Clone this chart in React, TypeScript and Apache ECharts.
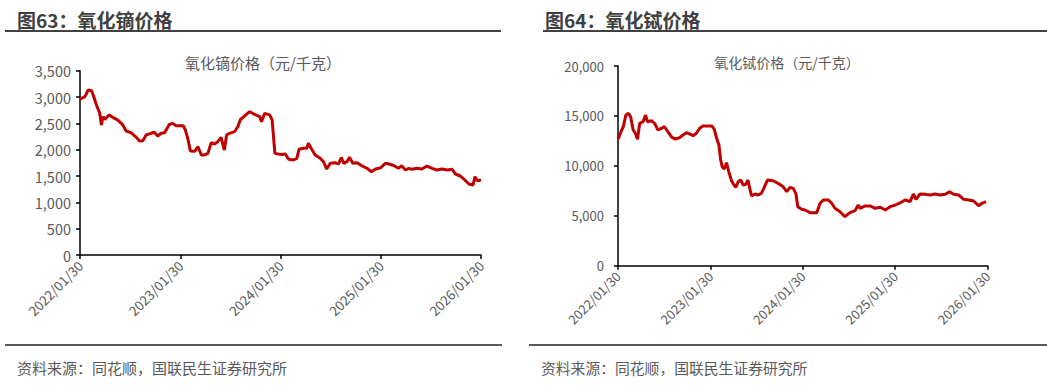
import React, { useEffect, useRef } from "react";
import * as echarts from "echarts";

// 氧化镝价格（元/千克）
const dyDates = [
  "2022-01-30", "2022-02-17", "2022-03-01", "2022-03-13", "2022-03-19", "2022-03-31", "2022-04-12", "2022-04-18",
  "2022-04-24", "2022-04-30", "2022-05-17", "2022-05-29", "2022-06-16", "2022-07-05", "2022-07-17", "2022-08-04",
  "2022-08-23", "2022-09-04", "2022-09-16", "2022-09-28", "2022-10-16", "2022-10-28", "2022-11-09", "2022-11-22",
  "2022-12-04", "2022-12-22", "2023-01-03", "2023-01-15", "2023-02-10", "2023-02-18", "2023-02-28", "2023-03-08",
  "2023-03-24", "2023-04-05", "2023-04-17", "2023-04-29", "2023-05-11", "2023-05-23", "2023-06-04", "2023-06-16",
  "2023-06-28", "2023-07-10", "2023-07-18", "2023-07-29", "2023-08-16", "2023-08-28", "2023-09-07", "2023-09-22",
  "2023-10-10", "2023-10-28", "2023-11-16", "2023-11-22", "2023-12-04", "2023-12-22", "2023-12-31", "2024-01-10",
  "2024-01-22", "2024-02-06", "2024-02-17", "2024-02-29", "2024-03-17", "2024-03-30", "2024-04-07", "2024-04-23",
  "2024-05-05", "2024-05-11", "2024-05-21", "2024-06-05", "2024-06-23", "2024-07-05", "2024-07-17", "2024-07-30",
  "2024-08-17", "2024-08-29", "2024-09-08", "2024-09-17", "2024-09-29", "2024-10-08", "2024-10-20", "2024-11-05",
  "2024-11-23", "2024-12-11", "2024-12-27", "2025-01-11", "2025-01-30", "2025-02-15", "2025-03-01", "2025-03-19",
  "2025-04-04", "2025-04-16", "2025-04-30", "2025-05-12", "2025-05-24", "2025-06-11", "2025-06-29", "2025-07-17",
  "2025-08-05", "2025-08-23", "2025-09-10", "2025-09-29", "2025-10-17", "2025-10-29", "2025-11-16", "2025-12-02",
  "2025-12-17", "2026-01-01", "2026-01-08", "2026-01-17", "2026-01-30",
];
const dyValues = [
  2960, 3006, 3135, 3120, 3040, 2850, 2690, 2470,
  2627, 2577, 2660, 2615, 2565, 2470, 2355, 2323,
  2235, 2165, 2170, 2280, 2311, 2330, 2260, 2311,
  2323, 2482, 2500, 2455, 2455, 2373, 2185, 1975,
  1970, 2057, 1900, 1900, 1930, 2133, 2108, 2152,
  2235, 1994, 2279, 2311, 2342, 2436, 2577, 2640,
  2721, 2672, 2627, 2532, 2690, 2660, 2565, 1930,
  1918, 1910, 1918, 1817, 1804, 1836, 2007, 2026,
  2026, 2121, 2026, 1900, 1836, 1772, 1633, 1741,
  1753, 1728, 1848, 1741, 1772, 1855, 1741, 1753,
  1690, 1646, 1582, 1633, 1658, 1741, 1728, 1696,
  1646, 1696, 1614, 1646, 1627, 1646, 1633, 1690,
  1646, 1614, 1633, 1614, 1627, 1538, 1500, 1424,
  1348, 1330, 1487, 1411, 1424,
];

// 氧化铽价格（元/千克）
const tbDates = [
  "2022-01-30", "2022-02-11", "2022-02-20", "2022-03-02", "2022-03-12", "2022-03-21", "2022-03-31", "2022-04-09",
  "2022-04-17", "2022-04-26", "2022-05-09", "2022-05-19", "2022-05-26", "2022-06-11", "2022-06-24", "2022-07-07",
  "2022-07-20", "2022-08-02", "2022-08-15", "2022-08-29", "2022-09-11", "2022-10-01", "2022-10-14", "2022-10-28",
  "2022-11-10", "2022-11-23", "2022-12-06", "2022-12-19", "2023-01-01", "2023-02-05", "2023-02-15", "2023-02-24",
  "2023-03-05", "2023-03-12", "2023-03-18", "2023-03-26", "2023-04-04", "2023-04-13", "2023-04-24", "2023-05-04",
  "2023-05-11", "2023-05-20", "2023-05-30", "2023-06-09", "2023-06-19", "2023-06-28", "2023-07-05", "2023-07-12",
  "2023-07-25", "2023-08-07", "2023-08-20", "2023-08-31", "2023-09-13", "2023-10-05", "2023-10-25", "2023-11-14",
  "2023-11-28", "2023-12-11", "2023-12-24", "2024-01-03", "2024-01-11", "2024-01-26", "2024-02-08", "2024-02-29",
  "2024-03-26", "2024-04-08", "2024-04-21", "2024-05-11", "2024-05-24", "2024-06-06", "2024-06-26", "2024-07-15",
  "2024-08-04", "2024-08-24", "2024-09-06", "2024-09-13", "2024-10-03", "2024-10-23", "2024-11-12", "2024-12-02",
  "2024-12-22", "2025-01-10", "2025-01-31", "2025-02-20", "2025-03-10", "2025-03-30", "2025-04-12", "2025-04-22",
  "2025-05-08", "2025-05-28", "2025-06-17", "2025-07-07", "2025-07-27", "2025-08-16", "2025-09-02", "2025-09-18",
  "2025-10-08", "2025-10-28", "2025-11-17", "2025-12-06", "2025-12-26", "2026-01-08", "2026-01-24",
];
const tbValues = [
  12660, 13420, 13920, 15090, 15260, 14920, 13590, 13260,
  12660, 14260, 14420, 15090, 14420, 14520, 14260, 13590,
  13760, 13920, 13420, 12920, 12690, 12820, 13090, 13320,
  13190, 13020, 13260, 13760, 13990, 13990, 13660, 12760,
  12090, 10590, 9920, 9690, 10320, 9420, 8480, 8080,
  7850, 8410, 8580, 8080, 8150, 8580, 7750, 6980,
  7180, 7080, 7250, 7850, 8580, 8510, 8250, 7910,
  7410, 7850, 7750, 7250, 5910, 5650, 5580, 5310,
  5310, 6250, 6580, 6580, 6250, 5750, 5410, 4910,
  5310, 5510, 6080, 5750, 5980, 5980, 5750, 5850,
  5580, 5910, 6080, 6310, 6580, 6410, 7180, 6650,
  7180, 7150, 7080, 7180, 7080, 7150, 7410, 7150,
  7080, 6650, 6580, 6480, 6010, 6250, 6410,
];

const xTickLabels = ["2022/01/30", "2023/01/30", "2024/01/30", "2025/01/30", "2026/01/30"];
const startDate = "2022-01-30";
const endDate = "2026-01-30";

const FONT = '"Noto Sans CJK SC", "Microsoft YaHei", sans-serif';
const GREY = "#595959";
const RED = "#c00000";

const DAY = 86400000;
const toDay = (d: string) => (Date.parse(d) - Date.parse(startDate)) / DAY;
const totalDays = toDay(endDate);
const addCommas = (v: number) => String(v).replace(/\B(?=(\d{3})+(?!\d))/g, ",");

function buildOption() {
  const xAxisBase = (gridIndex: number, fontSize: number) => ({
    type: "value",
    gridIndex,
    min: 0,
    max: totalDays,
    interval: totalDays / 4,
    axisLine: { show: true, lineStyle: { color: "#000", width: 1.5 } },
    axisTick: { show: true, length: 4, inside: false, lineStyle: { color: "#000", width: 1.5 } },
    splitLine: { show: false },
    axisLabel: {
      rotate: 45,
      color: GREY,
      fontSize,
      fontFamily: FONT,
      margin: 8,
      showMinLabel: true,
      showMaxLabel: true,
      formatter: (_v: number, i: number) => xTickLabels[i] ?? "",
    },
  });
  const yAxisBase = (gridIndex: number, max: number, interval: number, fontSize: number, margin: number) => ({
    type: "value",
    gridIndex,
    min: 0,
    max,
    interval,
    axisLine: { show: true, lineStyle: { color: "#000", width: 1.5 } },
    axisTick: { show: true, length: 4, lineStyle: { color: "#000", width: 1.5 } },
    splitLine: { show: false },
    axisLabel: {
      color: GREY,
      fontSize,
      fontFamily: FONT,
      margin,
      formatter: (v: number) => addCommas(v),
    },
  });

  return {
    animation: false,
    backgroundColor: "#fff",
    grid: [
      { left: 80, top: 70.7, width: 401, height: 184.3 },
      { left: 618, top: 66, width: 369.5, height: 199.7 },
    ],
    xAxis: [xAxisBase(0, 13.5), xAxisBase(1, 13)],
    yAxis: [yAxisBase(0, 3500, 500, 14.5, 9), yAxisBase(1, 20000, 5000, 13, 14)],
    series: [
      {
        type: "line",
        xAxisIndex: 0,
        yAxisIndex: 0,
        data: dyDates.map((d, i) => [toDay(d), dyValues[i]]),
        showSymbol: false,
        lineStyle: { color: RED, width: 3 },
        itemStyle: { color: RED },
      },
      {
        type: "line",
        xAxisIndex: 1,
        yAxisIndex: 1,
        data: tbDates.map((d, i) => [toDay(d), tbValues[i]]),
        showSymbol: false,
        lineStyle: { color: RED, width: 3 },
        itemStyle: { color: RED },
      },
    ],
    graphic: [
      {
        type: "text",
        left: 17,
        top: 10,
        style: { text: "图63：氧化镝价格", fill: "#404040", font: `bold 19px ${FONT}` },
      },
      {
        type: "text",
        left: 545,
        top: 10,
        style: { text: "图64：氧化铽价格", fill: "#404040", font: `bold 19px ${FONT}` },
      },
      { type: "line", shape: { x1: 5, y1: 31, x2: 501, y2: 31 }, style: { stroke: "#404040", lineWidth: 2 } },
      { type: "line", shape: { x1: 543, y1: 31, x2: 1047, y2: 31 }, style: { stroke: "#404040", lineWidth: 2 } },
      {
        type: "text",
        x: 263,
        y: 62,
        style: { text: "氧化镝价格（元/千克）", fill: GREY, font: `15px ${FONT}`, align: "center", verticalAlign: "middle" },
      },
      {
        type: "text",
        x: 787,
        y: 62,
        style: { text: "氧化铽价格（元/千克）", fill: GREY, font: `14px ${FONT}`, align: "center", verticalAlign: "middle" },
      },
      { type: "line", shape: { x1: 5, y1: 345, x2: 502, y2: 345 }, style: { stroke: "#595959", lineWidth: 2 } },
      { type: "line", shape: { x1: 529, y1: 345, x2: 1047, y2: 345 }, style: { stroke: "#595959", lineWidth: 2 } },
      {
        type: "text",
        x: 17,
        y: 367,
        style: { text: "资料来源：同花顺，国联民生证券研究所", fill: GREY, font: `15px ${FONT}`, verticalAlign: "middle" },
      },
      {
        type: "text",
        x: 541,
        y: 367,
        style: { text: "资料来源：同花顺，国联民生证券研究所", fill: GREY, font: `14.8px ${FONT}`, verticalAlign: "middle" },
      },
    ],
  };
}

export default function App() {
  const ref = useRef<HTMLDivElement>(null);
  useEffect(() => {
    document.body.style.margin = "0";
    if (!ref.current) return;
    const chart = echarts.init(ref.current, null, { renderer: "svg" });
    chart.setOption(buildOption() as any);
    return () => chart.dispose();
  }, []);
  return <div ref={ref} style={{ width: 1047, height: 389, background: "#fff" }} />;
}
